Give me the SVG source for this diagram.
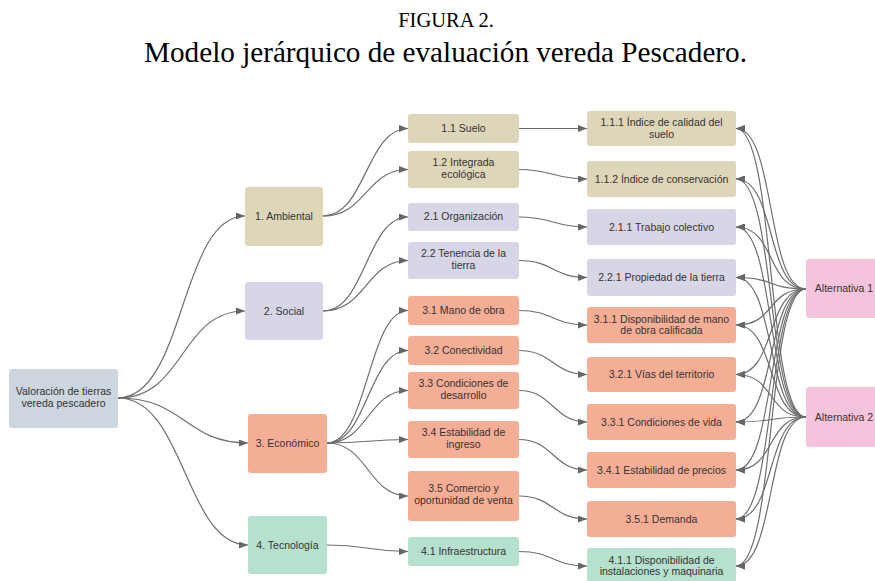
<svg xmlns="http://www.w3.org/2000/svg" width="875" height="581" viewBox="0 0 875 581">
<defs>
<marker id="ah" markerUnits="userSpaceOnUse" markerWidth="9" markerHeight="7" refX="9" refY="3.5" orient="auto">
<path d="M0,0 L9,3.5 L0,7 z" fill="#666"/>
</marker>
<style>
.t{font-family:"Liberation Sans",Arial,sans-serif;font-size:10.5px;fill:#333;text-anchor:middle}
.h{font-family:"Liberation Serif","Times New Roman",serif;fill:#000;text-anchor:middle}
.c path{fill:none;stroke:#6e6e6e;stroke-width:1.2;marker-end:url(#ah)}
.root{fill:#cdd5de}
.amb{fill:#ddd6b8}
.soc{fill:#d7d6e6}
.eco{fill:#f5ae96}
.tec{fill:#b6e1cf}
.alt{fill:#f4c4dc}
</style>
</defs>
<rect width="875" height="581" fill="#fff"/>
<text class="h" x="446" y="27" font-size="20.5">FIGURA 2.</text>
<text class="h" x="445.5" y="62" font-size="29.2">Modelo jerárquico de evaluación vereda Pescadero.</text>

<g class="c" id="connectors">
<!-- root to level 1 -->
<path d="M118,398 C185,398 180,216 245,216"/>
<path d="M118,398 C185,398 180,311 245,311"/>
<path d="M118,398 C185,398 185,443 248,443"/>
<path d="M118,398 C185,398 185,545 248,545"/>
<!-- level 1 to level 2 -->
<path d="M323,216 C366,216 366,128.5 408,128.5"/>
<path d="M323,216 C366,216 366,169.5 408,169.5"/>
<path d="M323,311 C366,311 366,217 408,217"/>
<path d="M323,311 C366,311 366,260.5 408,260.5"/>
<path d="M327,443 C368,443 368,310.5 408,310.5"/>
<path d="M327,443 C368,443 368,350.5 408,350.5"/>
<path d="M327,443 C368,443 368,390.5 408,390.5"/>
<path d="M327,443 C368,443 368,439.5 408,439.5"/>
<path d="M327,443 C368,443 368,496 408,496"/>
<path d="M327,545 C368,545 368,551.5 408,551.5"/>
<!-- level 2 to level 3 -->
<path d="M519,128.5 L587,128.5"/>
<path d="M519,169.5 C553,169.5 553,179 587,179"/>
<path d="M519,217 C553,217 553,227 587,227"/>
<path d="M519,260.5 C553,260.5 553,277.5 587,277.5"/>
<path d="M519,310.5 C553,310.5 553,325 587,325"/>
<path d="M519,350.5 C553,350.5 553,374.5 587,374.5"/>
<path d="M519,390.5 C553,390.5 553,422 587,422"/>
<path d="M519,439.5 C553,439.5 553,470 587,470"/>
<path d="M519,496 C553,496 553,519 587,519"/>
<path d="M519,551.5 C553,551.5 553,566 587,566"/>
<!-- Alternativa 1 -->
<path d="M806,289 C766,289 776,128.5 736,128.5"/>
<path d="M806,289 C766,289 776,179 736,179"/>
<path d="M806,289 C766,289 776,227 736,227"/>
<path d="M806,289 C766,289 776,277.5 736,277.5"/>
<path d="M806,289 C766,289 776,325 736,325"/>
<path d="M806,289 C766,289 776,374.5 736,374.5"/>
<path d="M806,289 C766,289 776,422 736,422"/>
<path d="M806,289 C766,289 776,470 736,470"/>
<path d="M806,289 C766,289 776,519 736,519"/>
<path d="M806,289 C766,289 776,566 736,566"/>
<!-- Alternativa 2 -->
<path d="M806,417 C766,417 776,128.5 736,128.5"/>
<path d="M806,417 C766,417 776,179 736,179"/>
<path d="M806,417 C766,417 776,227 736,227"/>
<path d="M806,417 C766,417 776,277.5 736,277.5"/>
<path d="M806,417 C766,417 776,325 736,325"/>
<path d="M806,417 C766,417 776,374.5 736,374.5"/>
<path d="M806,417 C766,417 776,422 736,422"/>
<path d="M806,417 C766,417 776,470 736,470"/>
<path d="M806,417 C766,417 776,519 736,519"/>
<path d="M806,417 C766,417 776,566 736,566"/>
</g>

<g id="root"><rect class="root" x="9" y="369" width="109" height="59" rx="3"/><text class="t" x="63.5" y="395">Valoración de tierras</text><text class="t" x="63.5" y="407">vereda pescadero</text></g>

<g id="n1"><rect class="amb" x="245" y="187" width="78" height="59" rx="3"/><text class="t" x="284" y="219.5">1. Ambiental</text></g>
<g id="n2"><rect class="soc" x="245" y="282" width="78" height="58" rx="3"/><text class="t" x="284" y="314.5">2. Social</text></g>
<g id="n3"><rect class="eco" x="248" y="414" width="79" height="59" rx="3"/><text class="t" x="287.5" y="446.5">3. Económico</text></g>
<g id="n4"><rect class="tec" x="248" y="516" width="79" height="58" rx="3"/><text class="t" x="287.5" y="548.5">4. Tecnología</text></g>

<g id="n11"><rect class="amb" x="408" y="114" width="111" height="29" rx="3"/><text class="t" x="463.5" y="131.5">1.1 Suelo</text></g>
<g id="n12"><rect class="amb" x="408" y="151" width="111" height="37" rx="3"/><text class="t" x="463.5" y="166">1.2 Integrada</text><text class="t" x="463.5" y="177.5">ecológica</text></g>
<g id="n21"><rect class="soc" x="408" y="203" width="111" height="28" rx="3"/><text class="t" x="463.5" y="220">2.1 Organización</text></g>
<g id="n22"><rect class="soc" x="408" y="242" width="111" height="37" rx="3"/><text class="t" x="463.5" y="257">2.2 Tenencia de la</text><text class="t" x="463.5" y="268.5">tierra</text></g>
<g id="n31"><rect class="eco" x="408" y="296" width="111" height="29" rx="3"/><text class="t" x="463.5" y="313.5">3.1 Mano de obra</text></g>
<g id="n32"><rect class="eco" x="408" y="336" width="111" height="29" rx="3"/><text class="t" x="463.5" y="353.5">3.2 Conectividad</text></g>
<g id="n33"><rect class="eco" x="408" y="372" width="111" height="37" rx="3"/><text class="t" x="463.5" y="387">3.3 Condiciones de</text><text class="t" x="463.5" y="398.5">desarrollo</text></g>
<g id="n34"><rect class="eco" x="408" y="421" width="111" height="37" rx="3"/><text class="t" x="463.5" y="436">3.4 Estabilidad de</text><text class="t" x="463.5" y="447.5">ingreso</text></g>
<g id="n35"><rect class="eco" x="408" y="471" width="111" height="50" rx="3"/><text class="t" x="463.5" y="492">3.5 Comercio y</text><text class="t" x="463.5" y="503.5">oportunidad de venta</text></g>
<g id="n41"><rect class="tec" x="408" y="537" width="111" height="29" rx="3"/><text class="t" x="463.5" y="554.5">4.1 Infraestructura</text></g>

<g id="n111"><rect class="amb" x="587" y="111" width="149" height="35" rx="3"/><text class="t" x="661.5" y="126">1.1.1 Índice de calidad del</text><text class="t" x="661.5" y="137.5">suelo</text></g>
<g id="n112"><rect class="amb" x="587" y="161" width="149" height="36" rx="3"/><text class="t" x="661.5" y="182.5">1.1.2 Índice de conservación</text></g>
<g id="n211"><rect class="soc" x="587" y="209" width="149" height="36" rx="3"/><text class="t" x="661.5" y="230.5">2.1.1 Trabajo colectivo</text></g>
<g id="n221"><rect class="soc" x="587" y="259" width="149" height="37" rx="3"/><text class="t" x="661.5" y="281">2.2.1 Propiedad de la tierra</text></g>
<g id="n311"><rect class="eco" x="587" y="307" width="149" height="36" rx="3"/><text class="t" x="661.5" y="322.5">3.1.1 Disponibilidad de mano</text><text class="t" x="661.5" y="334">de obra calificada</text></g>
<g id="n321"><rect class="eco" x="587" y="357" width="149" height="35" rx="3"/><text class="t" x="661.5" y="378">3.2.1 Vías del territorio</text></g>
<g id="n331"><rect class="eco" x="587" y="404" width="149" height="36" rx="3"/><text class="t" x="661.5" y="425.5">3.3.1 Condiciones de vida</text></g>
<g id="n341"><rect class="eco" x="587" y="452" width="149" height="36" rx="3"/><text class="t" x="661.5" y="473.5">3.4.1 Estabilidad de precios</text></g>
<g id="n351"><rect class="eco" x="587" y="501" width="149" height="36" rx="3"/><text class="t" x="661.5" y="522.5">3.5.1 Demanda</text></g>
<g id="n411"><rect class="tec" x="587" y="548" width="149" height="36" rx="3"/><text class="t" x="661.5" y="563.5">4.1.1 Disponibilidad de</text><text class="t" x="661.5" y="575">instalaciones y maquinaria</text></g>

<g id="alt1"><rect class="alt" x="806" y="259" width="76" height="59" rx="3"/><text class="t" x="844" y="292">Alternativa 1</text></g>
<g id="alt2"><rect class="alt" x="806" y="387" width="76" height="60" rx="3"/><text class="t" x="844" y="420.5">Alternativa 2</text></g>
</svg>
